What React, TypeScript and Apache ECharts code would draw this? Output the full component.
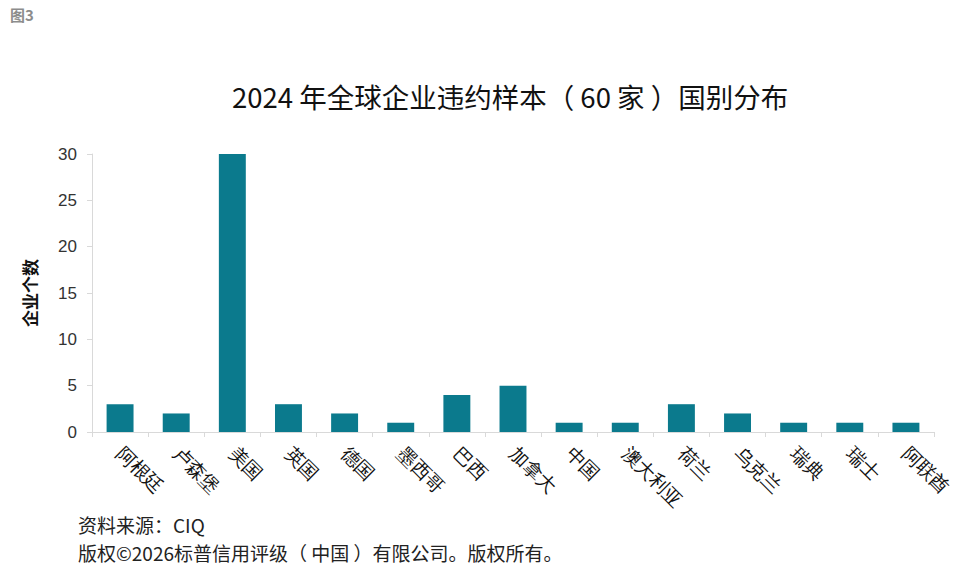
import React, { useEffect, useRef } from "react";
import * as echarts from "echarts";

const categories = ["阿根廷", "卢森堡", "美国", "英国", "德国", "墨西哥", "巴西", "加拿大", "中国", "澳大利亚", "荷兰", "乌克兰", "瑞典", "瑞士", "阿联酋"];
const counts = [3, 2, 30, 3, 2, 1, 4, 5, 1, 1, 3, 2, 1, 1, 1];
const yTicks = { min: 0, max: 30, interval: 5 };
const title = "2024 年全球企业违约样本（ 60 家 ）国别分布";
const figLabel = "图3";
const yName = "企业个数";
const source = "资料来源：CIQ";
const copyright = "版权©2026标普信用评级（ 中国 ）有限公司。版权所有。";

export default function App() {
  const ref = useRef<HTMLDivElement>(null);
  useEffect(() => {
    document.body.style.margin = "0";
    const chart = echarts.init(ref.current!, null, { renderer: "svg" });
    chart.setOption({
      animation: false,
      backgroundColor: "#ffffff",
      textStyle: { fontFamily: "Liberation Sans, Arial, Noto Sans CJK SC, sans-serif" },
      grid: { left: 92, right: 34, top: 154, bottom: 140, containLabel: false },
      graphic: [
        { type: "text", left: 10, top: 7, style: { text: figLabel, fill: "#8c8c8c", font: "bold 15px 'Noto Sans CJK SC', sans-serif" } },
        { type: "text", left: 232, top: 82, style: { text: title, fill: "#111", font: "27.5px 'Noto Sans CJK SC', sans-serif" } },
        { type: "text", left: 78, top: 515, style: { text: source, fill: "#222", font: "19px 'Noto Sans CJK SC', sans-serif" } },
        { type: "text", left: 78, top: 543, style: { text: copyright, fill: "#222", font: "19px 'Noto Sans CJK SC', sans-serif" } },
      ],
      xAxis: {
        type: "category",
        data: categories,
        axisLine: { lineStyle: { color: "#d9d9d9", width: 1 } },
        axisTick: { show: true, alignWithLabel: false, length: 5, lineStyle: { color: "#d9d9d9" } },
        axisLabel: { rotate: -45, color: "#111", fontSize: 19, margin: 18, fontFamily: "serif", interval: 0 },
      },
      yAxis: {
        type: "value",
        min: yTicks.min,
        max: yTicks.max,
        interval: yTicks.interval,
        name: yName,
        nameLocation: "middle",
        nameGap: 54,
        nameTextStyle: { fontSize: 17, fontWeight: "bold", color: "#111", fontFamily: "'Noto Sans CJK SC', sans-serif" },
        axisLine: { show: true, lineStyle: { color: "#d9d9d9" } },
        axisTick: { show: true, length: 5, lineStyle: { color: "#d9d9d9" } },
        axisLabel: { color: "#333", fontSize: 17, margin: 15 },
        splitLine: { show: false },
      },
      series: [
        {
          type: "bar",
          data: counts,
          barWidth: "48%",
          itemStyle: { color: "#0b7a8d" },
        },
      ],
    });
    return () => chart.dispose();
  }, []);
  return <div ref={ref} style={{ width: 968, height: 572, position: "fixed", left: 0, top: 0 }} />;
}
